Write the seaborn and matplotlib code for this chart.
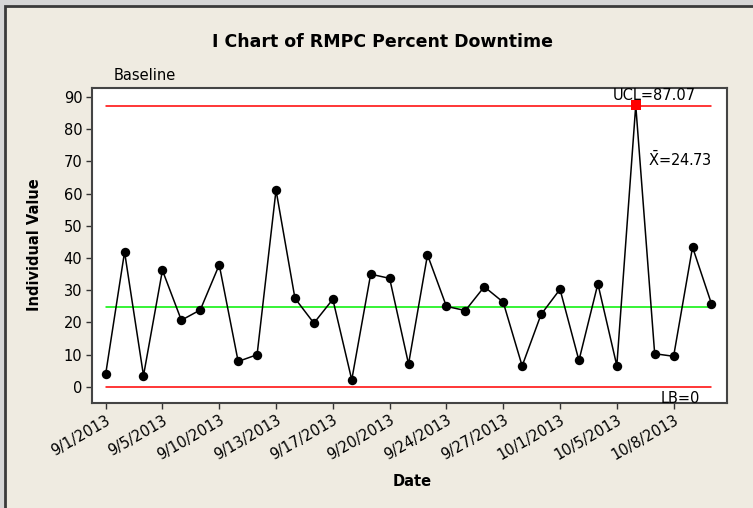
import matplotlib
matplotlib.use("Agg")
import matplotlib.pyplot as plt
import seaborn as sns
import pandas as pd

# Observation dates (one per reading) and percent downtime
dates = ["9/1/2013", "9/3/2013", "9/4/2013", "9/5/2013", "9/6/2013", "9/9/2013",
         "9/10/2013", "9/11/2013", "9/12/2013", "9/13/2013", "9/15/2013", "9/16/2013",
         "9/17/2013", "9/18/2013", "9/19/2013", "9/20/2013", "9/22/2013", "9/23/2013",
         "9/24/2013", "9/25/2013", "9/26/2013", "9/27/2013", "9/29/2013", "9/30/2013",
         "10/1/2013", "10/2/2013", "10/4/2013", "10/5/2013", "10/6/2013", "10/7/2013",
         "10/8/2013", "10/9/2013", "10/10/2013"]
downtime = [3.9, 41.9, 3.5, 36.2, 20.7, 23.9, 37.9, 7.9, 10.0, 61.1, 27.5, 19.8,
            27.2, 2.2, 35.0, 33.7, 7.1, 41.0, 25.0, 23.7, 31.1, 26.3, 6.5, 22.5,
            30.3, 8.2, 32.0, 6.6, 87.4, 10.3, 9.5, 43.4, 25.8]

# Control limits
ucl = 87.07
center = 24.73
lb = 0.0
yticks = [0, 10, 20, 30, 40, 50, 60, 70, 80, 90]

sns.set_style("white")
plt.rcParams["font.family"] = ["DejaVu Sans"]
plt.rcParams.update({"text.color": "black", "axes.labelcolor": "black",
                     "xtick.color": "black", "ytick.color": "black"})

df = pd.DataFrame({"idx": range(len(dates)), "date": dates, "value": downtime})
df["out"] = df["value"] > ucl

bg = "#EFEBE1"
fig = plt.figure(figsize=(7.53, 5.08), dpi=100, facecolor=bg)
# outer frame
fig.patches.append(plt.Rectangle((0, 0), 1, 1, transform=fig.transFigure,
                                 facecolor="#D6D6D6", edgecolor="none", zorder=-3))
fig.patches.append(plt.Rectangle((5 / 753, -0.01), 1.0, 1 - 6 / 508 + 0.01,
                                 transform=fig.transFigure, facecolor=bg,
                                 edgecolor="#3A3A3A", linewidth=2, zorder=-2))

ax = fig.add_axes([92 / 753, (508 - 403) / 508, (727 - 92) / 753, (403 - 88) / 508])
ax.set_facecolor("white")

first, last = df["idx"].iloc[0], df["idx"].iloc[-1]
ax.plot([first, last], [ucl, ucl], color="#FF0000", lw=1.1, zorder=1)
ax.plot([first, last], [lb, lb], color="#FF0000", lw=1.1, zorder=1)
ax.plot([first, last], [center, center], color="#00F000", lw=1.1, zorder=1)

sns.lineplot(data=df, x="idx", y="value", color="black", lw=1.1, ax=ax, zorder=2)
sns.scatterplot(data=df[~df["out"]], x="idx", y="value", color="black", s=46,
                edgecolor="black", linewidth=0, ax=ax, zorder=3)
sns.scatterplot(data=df[df["out"]], x="idx", y="value", color="#FF0000", marker="s",
                s=42, edgecolor="#FF0000", linewidth=0, ax=ax, zorder=3)

ax.set_xlim(-0.72, 32.82)
ax.set_ylim(-5, 92.8)
ax.set_yticks(yticks)
ax.set_yticklabels([str(v) for v in yticks], fontsize=10.5)
tick_pos = list(range(0, len(dates), 3))
ax.set_xticks(tick_pos)
ax.set_xticklabels([dates[i] for i in tick_pos], rotation=30, ha="right",
                   rotation_mode="anchor", fontsize=10.5)
ax.tick_params(axis="both", direction="out", length=4, width=1, color="#333333",
               bottom=True, left=True, pad=3)
for s in ax.spines.values():
    s.set_color("#444444")
    s.set_linewidth(1.5)

ax.set_xlabel("")
ax.set_ylabel("")
fig.text(412 / 753, 1 - 482 / 508, "Date", ha="center", va="center",
         fontsize=10.5, fontweight="bold")
fig.text(35 / 753, 1 - 245 / 508, "Individual Value", ha="center", va="center",
         rotation=90, fontsize=10.5, fontweight="bold")
fig.text(382 / 753, 1 - 42 / 508, "I Chart of RMPC Percent Downtime", ha="center",
         va="center", fontsize=12.5, fontweight="bold")

ax.text(0.4, 96.7, "Baseline", ha="left", va="center", fontsize=10.5, clip_on=False)
ax.text(31.2, 90.6, f"UCL={ucl:.2f}", ha="right", va="center", fontsize=10.5)
ax.text(32.0, 70.6, r"$\bar{\mathrm{X}}$" + f"={center:.2f}", ha="right", va="center",
        fontsize=10.5)
ax.text(31.4, -3.6, f"LB={lb:.0f}", ha="right", va="center", fontsize=10.5)

fig.savefig("out.png", dpi=100, facecolor=fig.get_facecolor())
